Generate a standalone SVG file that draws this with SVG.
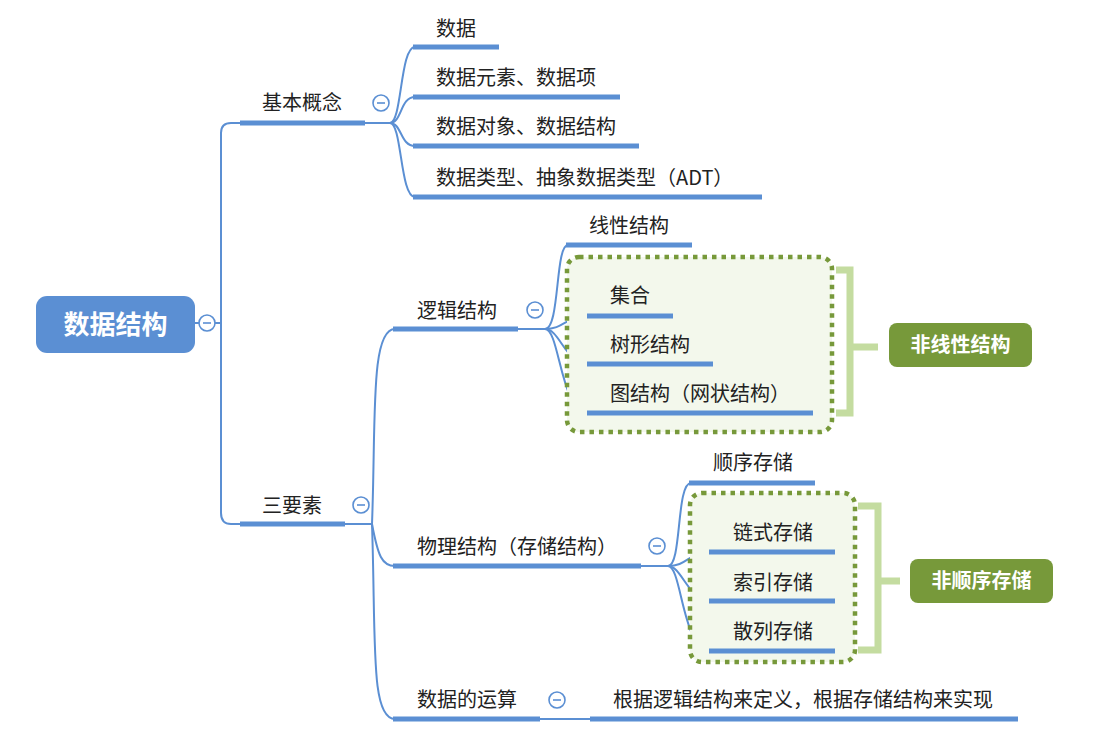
<svg xmlns="http://www.w3.org/2000/svg" width="1098" height="737" viewBox="0 0 1098 737">
<style>
.t{font-family:"Noto Sans CJK SC","Noto Sans",sans-serif;font-size:20px;fill:#222}
.w{font-family:"Noto Sans CJK SC","Noto Sans",sans-serif;font-weight:bold;fill:#fff;text-anchor:middle}
.c{fill:none;stroke:#5b8fd3;stroke-width:2}
.u{stroke:#5b8fd3;stroke-width:5}
.k{fill:#fff;stroke:#5b8fd3;stroke-width:1.6}
.km{stroke:#5b8fd3;stroke-width:1.6}
.box{fill:#f3f8ec;stroke:#77993a;stroke-width:4.5;stroke-dasharray:4.5 5}
.br{fill:none;stroke:#c4dca0;stroke-width:7}
.g{fill:#77993a}
</style>
<rect width="1098" height="737" fill="#fff"/>
<g id="connectors">
<path class="c" d="M195,323 H221"/>
<path class="c" d="M221,133 Q221,123 231,123 H390"/>
<path class="c" d="M221,323 V513 Q221,524 231,524 H372"/>
<path class="c" d="M221,323 V133"/>
<path class="c" d="M390,123 C402,123 400,47 415,47"/>
<path class="c" d="M390,123 C402,123 400,97 415,97"/>
<path class="c" d="M390,123 C402,123 400,146 415,146"/>
<path class="c" d="M390,123 C402,123 400,197 415,197"/>
<path class="c" d="M372,524 C376,420 370,329 395,329"/>
<path class="c" d="M372,524 C378,556 382,566 395,566"/>
<path class="c" d="M372,524 C376,640 370,719 395,719"/>
<path class="c" d="M518,329 H545"/>
<path class="c" d="M545,329 C560,329 555,245 568,245"/>
<path class="c" d="M545,329 C565,329 565,316 589,316"/>
<path class="c" d="M545,329 C560,329 565,364 589,364"/>
<path class="c" d="M545,329 C560,329 560,413 589,413"/>
<path class="c" d="M641,566 H668"/>
<path class="c" d="M668,566 C682,566 676,483 691,483"/>
<path class="c" d="M668,566 C688,566 688,552 711,552"/>
<path class="c" d="M668,566 C682,566 688,601 711,601"/>
<path class="c" d="M668,566 C682,566 682,651 711,651"/>
<path class="c" d="M540,719 H592"/>
</g>
<g id="nonlinear-group">
<rect class="box" x="567" y="257" width="265" height="175" rx="12"/>
<path class="br" d="M836,270 H850 V413 H836 M850,347 H878"/>
</g>
<g id="nonseq-group">
<rect class="box" x="690" y="493" width="165" height="169" rx="12"/>
<path class="br" d="M858,506 H878 V650 H858 M878,581 H900"/>
</g>
<g id="root">
<rect x="36" y="296" width="159" height="57" rx="11" fill="#5b8fd3"/>
<text class="w" x="115.5" y="334" font-size="26">数据结构</text>
<circle class="k" cx="207" cy="323" r="8"/><path class="km" d="M203,323 H211"/>
</g>
<g id="jibengainian">
<line class="u" x1="240" y1="123" x2="365" y2="123"/>
<text class="t" x="262" y="110">基本概念</text>
<circle class="k" cx="381" cy="103" r="8"/><path class="km" d="M377,103 H385"/>
</g>
<g id="shuju"><line class="u" x1="413" y1="47" x2="499" y2="47"/><text class="t" x="436" y="36">数据</text></g>
<g id="yuansu"><line class="u" x1="413" y1="97" x2="620" y2="97"/><text class="t" x="436" y="85">数据元素、数据项</text></g>
<g id="duixiang"><line class="u" x1="413" y1="146" x2="639" y2="146"/><text class="t" x="436" y="134">数据对象、数据结构</text></g>
<g id="leixing"><line class="u" x1="413" y1="197" x2="762" y2="197"/><text class="t" x="436" y="185">数据类型、抽象数据类型（ADT）</text></g>
<g id="sanyaosu">
<line class="u" x1="240" y1="524" x2="345" y2="524"/>
<text class="t" x="262" y="513">三要素</text>
<circle class="k" cx="361" cy="505" r="8"/><path class="km" d="M357,505 H365"/>
</g>
<g id="luoji">
<line class="u" x1="393" y1="329" x2="518" y2="329"/>
<text class="t" x="417" y="318">逻辑结构</text>
<circle class="k" cx="535" cy="310" r="8"/><path class="km" d="M531,310 H539"/>
</g>
<g id="xianxing"><line class="u" x1="566" y1="245" x2="692" y2="245"/><text class="t" x="589" y="233">线性结构</text></g>
<g id="jihe"><line class="u" x1="587" y1="316" x2="673" y2="316"/><text class="t" x="610" y="303">集合</text></g>
<g id="shuxing"><line class="u" x1="587" y1="364" x2="713" y2="364"/><text class="t" x="610" y="352">树形结构</text></g>
<g id="tu"><line class="u" x1="587" y1="413" x2="813" y2="413"/><text class="t" x="610" y="401">图结构（网状结构）</text></g>
<g id="feixianxing">
<rect class="g" x="889" y="323" width="143" height="44" rx="8"/>
<text class="w" x="960.5" y="352" font-size="20">非线性结构</text>
</g>
<g id="wuli">
<line class="u" x1="393" y1="566" x2="641" y2="566"/>
<text class="t" x="417" y="554">物理结构（存储结构）</text>
<circle class="k" cx="657" cy="546" r="8"/><path class="km" d="M653,546 H661"/>
</g>
<g id="shunxu"><line class="u" x1="689" y1="483" x2="815" y2="483"/><text class="t" x="713" y="470">顺序存储</text></g>
<g id="lianshi"><line class="u" x1="709" y1="552" x2="835" y2="552"/><text class="t" x="733" y="540">链式存储</text></g>
<g id="suoyin"><line class="u" x1="709" y1="601" x2="835" y2="601"/><text class="t" x="733" y="590">索引存储</text></g>
<g id="sanlie"><line class="u" x1="709" y1="651" x2="835" y2="651"/><text class="t" x="733" y="639">散列存储</text></g>
<g id="feishunxu">
<rect class="g" x="910" y="559" width="143" height="44" rx="8"/>
<text class="w" x="981.5" y="588" font-size="20">非顺序存储</text>
</g>
<g id="yunsuan">
<line class="u" x1="393" y1="719" x2="540" y2="719"/>
<text class="t" x="417" y="707">数据的运算</text>
<circle class="k" cx="557" cy="700" r="8"/><path class="km" d="M553,700 H561"/>
</g>
<g id="shixian"><line class="u" x1="590" y1="719" x2="1018" y2="719"/><text class="t" x="613" y="707">根据逻辑结构来定义，根据存储结构来实现</text></g>
</svg>
